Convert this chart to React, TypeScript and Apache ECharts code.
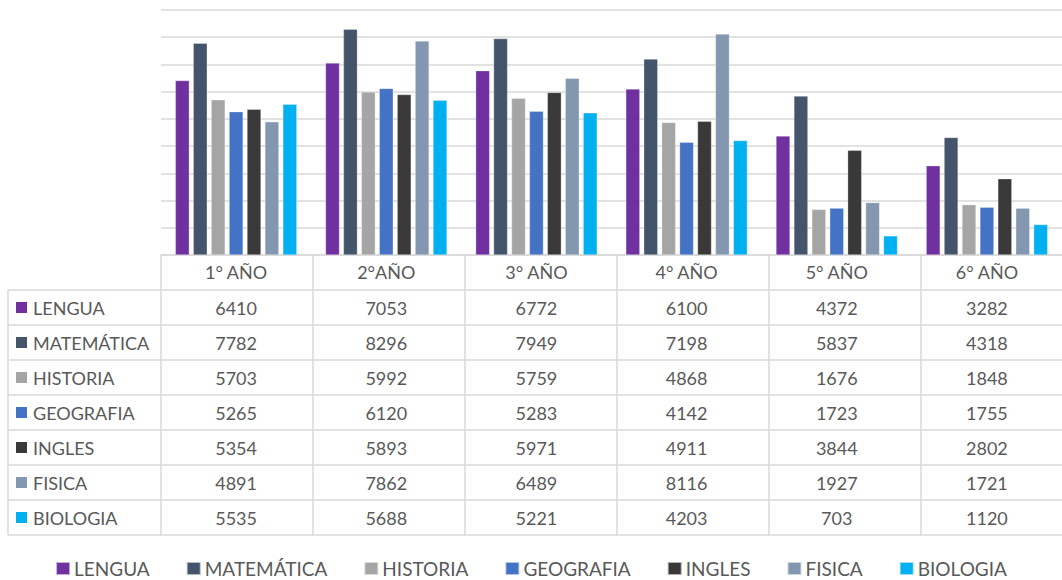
import React, { useEffect, useRef } from "react";
import * as echarts from "echarts";

const categories = ["1° AÑO", "2°AÑO", "3° AÑO", "4° AÑO", "5° AÑO", "6° AÑO"];
const subjects = ["LENGUA", "MATEMÁTICA", "HISTORIA", "GEOGRAFIA", "INGLES", "FISICA", "BIOLOGIA"];
const subjectColors = ["#7030A0", "#44546A", "#A5A5A5", "#4472C4", "#3A3838", "#8497B0", "#00B0F0"];

const lengua = [6410, 7053, 6772, 6100, 4372, 3282];
const matematica = [7782, 8296, 7949, 7198, 5837, 4318];
const historia = [5703, 5992, 5759, 4868, 1676, 1848];
const geografia = [5265, 6120, 5283, 4142, 1723, 1755];
const ingles = [5354, 5893, 5971, 4911, 3844, 2802];
const fisica = [4891, 7862, 6489, 8116, 1927, 1721];
const biologia = [5535, 5688, 5221, 4203, 703, 1120];
const seriesValues = [lengua, matematica, historia, geografia, ingles, fisica, biologia];

const yMax = 9000;
const yInterval = 1000;

const FONT = "Lato, 'Open Sans', sans-serif";
const TEXT = "#595959";
const LINE = "#d9d9d9";

export default function App() {
  const ref = useRef<HTMLDivElement>(null);
  useEffect(() => {
    const chart = echarts.init(ref.current!, undefined, { renderer: "svg" });
    const gridLeft = 161;
    const gridTop = 10;
    const gridH = 245;
    const colW = 152;
    const gridW = colW * categories.length;
    chart.setOption({
      animation: false,
      textStyle: { fontFamily: FONT },
      grid: { left: gridLeft, top: gridTop, width: gridW, height: gridH, containLabel: false },
      xAxis: {
        type: "category",
        data: categories,
        boundaryGap: true,
        axisLine: { show: true, lineStyle: { color: LINE, width: 1.5 } },
        axisTick: { show: false },
        axisLabel: { color: TEXT, fontSize: 18, fontFamily: FONT, margin: 8, lineHeight: 18 },
      },
      yAxis: {
        type: "value",
        min: 0,
        max: yMax,
        interval: yInterval,
        axisLabel: { show: false },
        axisLine: { show: false },
        axisTick: { show: false },
        splitLine: { show: true, lineStyle: { color: LINE, width: 1.5 } },
      },
      legend: {
        data: subjects,
        left: "center",
        top: 559,
        icon: "rect",
        itemWidth: 14,
        itemHeight: 13,
        itemGap: 36,
        padding: 0,
        textStyle: { color: TEXT, fontSize: 19, fontFamily: FONT, lineHeight: 18, padding: [0, 0, 0, -1] },
      },
      series: subjects.map((s, i) => ({
        name: s,
        type: "bar",
        data: seriesValues[i],
        barWidth: 14,
        barGap: "28%",
        itemStyle: { color: subjectColors[i], borderColor: "rgba(255,255,255,0.6)", borderWidth: 0.5 },
      })),
    });

    const rowTop = 290;
    const rowH = 35;
    const tableLeft = 8;
    const tableRight = 1062;
    const elems: any[] = [];
    const lineStyle = { stroke: LINE, lineWidth: 1.5 };
    for (let r = 0; r <= subjects.length; r++) {
      const y = rowTop + r * rowH;
      elems.push({ type: "line", shape: { x1: tableLeft, y1: y, x2: tableRight, y2: y }, style: lineStyle, silent: true });
    }
    const tableBottom = rowTop + subjects.length * rowH;
    elems.push({ type: "line", shape: { x1: tableLeft, y1: rowTop, x2: tableLeft, y2: tableBottom }, style: lineStyle, silent: true });
    for (let c = 0; c <= categories.length; c++) {
      const x = gridLeft + c * colW;
      elems.push({ type: "line", shape: { x1: x, y1: gridTop + gridH, x2: x, y2: tableBottom }, style: lineStyle, silent: true });
    }
    subjects.forEach((s, r) => {
      const yc = rowTop + r * rowH + rowH / 2;
      elems.push({ type: "rect", shape: { x: 16, y: yc - 5.5, width: 11, height: 11 }, style: { fill: subjectColors[r] }, silent: true });
      elems.push({
        type: "text",
        x: 33,
        y: yc,
        style: { text: s, fill: TEXT, font: `18px ${FONT}`, textVerticalAlign: "middle", verticalAlign: "middle" },
        silent: true,
      });
      categories.forEach((cat, c) => {
        const xc = chart.convertToPixel({ xAxisIndex: 0 }, cat) as number;
        elems.push({
          type: "text",
          x: xc,
          y: yc,
          style: {
            text: String(seriesValues[r][c]),
            fill: TEXT,
            font: `18px ${FONT}`,
            align: "center",
            textAlign: "center",
            verticalAlign: "middle",
            textVerticalAlign: "middle",
          },
          silent: true,
        });
      });
    });
    chart.setOption({ graphic: { elements: elems } });
    return () => chart.dispose();
  }, []);
  return (
    <div
      ref={ref}
      style={{ position: "fixed", left: 0, top: 0, width: 1062, height: 580, overflow: "hidden", background: "#fff" }}
    />
  );
}
